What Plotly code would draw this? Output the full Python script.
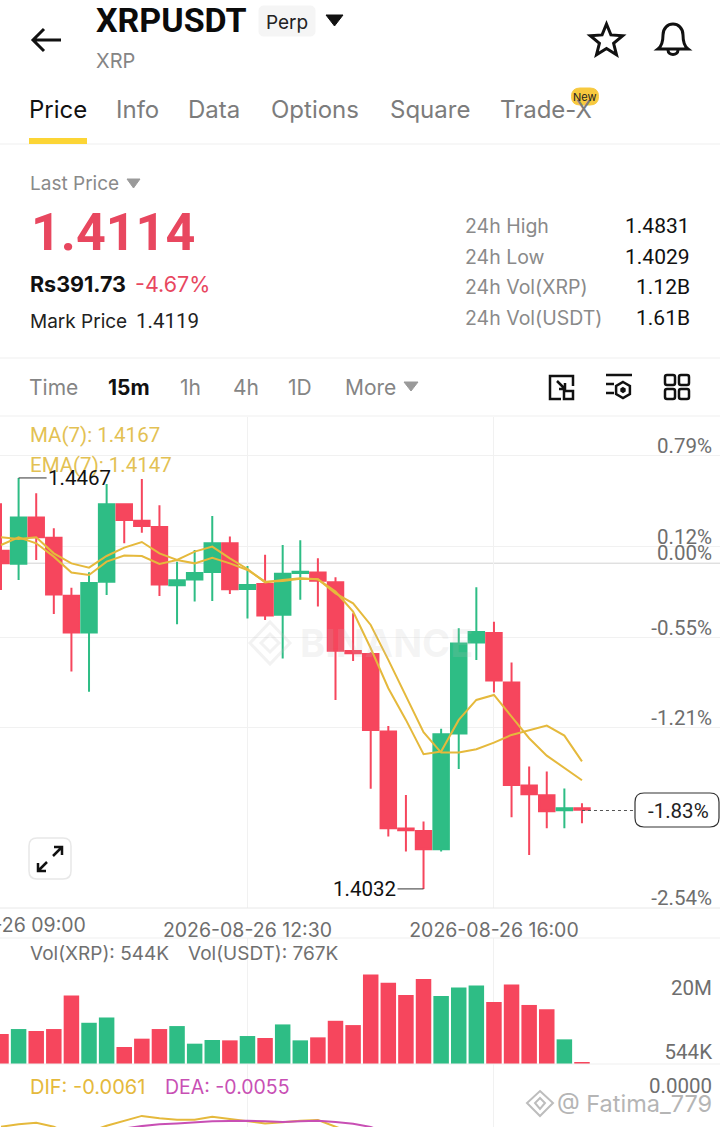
"""XRPUSDT perp screen: candles, volume and MACD panels with the app chrome around them."""
import math

import pandas as pd
import plotly.graph_objects as go

W, H = 720, 1127
GREEN = "#2EBD85"
RED = "#F6465D"
PRICE_RED = "#E8475F"
YELLOW = "#E5B93C"
GRID = "#F1F1F1"
GRAY = "#7C7C7C"
FONT = "Inter"
NUM_FONT = "Roboto"  # digits are all one width here, like the app's numerals

# 15m candles, first one is just off the left edge
times = pd.date_range("2026-08-26 09:00", periods=34, freq="15min")
opens = [1.43900, 1.43763, 1.44250, 1.44038, 1.43424, 1.43033, 1.43572, 1.44391, 1.44218, 1.44151, 1.43534,
         1.43594, 1.43675, 1.43978, 1.43495, 1.43548, 1.43223, 1.43664, 1.43668, 1.43565, 1.42839, 1.42807,
         1.41985, 1.40959, 1.40934, 1.40740, 1.41964, 1.42927, 1.43029, 1.42504, 1.41414, 1.41312, 1.41153, 1.41174]
highs = [1.44401, 1.44670, 1.44507, 1.44137, 1.43509, 1.43671, 1.44606, 1.44401, 1.44659, 1.44380, 1.43784,
         1.43907, 1.44267, 1.44049, 1.43738, 1.43858, 1.43960, 1.44010, 1.43819, 1.43618, 1.43237, 1.42825,
         1.42045, 1.41315, 1.41033, 1.42014, 1.43079, 1.43513, 1.43149, 1.42716, 1.41615, 1.41562, 1.41382, 1.41227]
lows = [1.43484, 1.43590, 1.43802, 1.43230, 1.42620, 1.42408, 1.43431, 1.43978, 1.44091, 1.43421, 1.43121,
        1.43361, 1.43368, 1.43442, 1.43181, 1.43167, 1.42758, 1.43382, 1.43308, 1.42320, 1.42733, 1.41379,
        1.40874, 1.40716, 1.40320, 1.40716, 1.41590, 1.42744, 1.42398, 1.41079, 1.40680, 1.40963, 1.40963, 1.41015]
closes = [1.43766, 1.44250, 1.44042, 1.43435, 1.43033, 1.43558, 1.44391, 1.44225, 1.44161, 1.43541, 1.43587,
          1.43664, 1.43978, 1.43491, 1.43537, 1.43213, 1.43657, 1.43678, 1.43583, 1.42842, 1.42814, 1.42003,
          1.40963, 1.40941, 1.40740, 1.41957, 1.42917, 1.43040, 1.42525, 1.41421, 1.41322, 1.41142, 1.41174, 1.41157]
ma7 = [1.43960, 1.44042, 1.43978, 1.43837, 1.43668, 1.43643, 1.43784, 1.43848, 1.43844, 1.43759, 1.43802,
       1.43766, 1.43826, 1.43766, 1.43696, 1.43572, 1.43579, 1.43604, 1.43597, 1.43449, 1.43343, 1.43114,
       1.42744, 1.42356, 1.41978, 1.41763, 1.41763, 1.41798, 1.41869, 1.41950, 1.41996, 1.42049, 1.41943, 1.41670]
ema7 = [1.44042, 1.44024, 1.44042, 1.43872, 1.43766, 1.43721, 1.43844, 1.43932, 1.43992, 1.43872, 1.43802,
        1.43890, 1.43943, 1.43819, 1.43706, 1.43565, 1.43590, 1.43608, 1.43597, 1.43467, 1.43255, 1.42867,
        1.42444, 1.42109, 1.41746, 1.41774, 1.42109, 1.42320, 1.42373, 1.42144, 1.41915, 1.41731, 1.41597, 1.41470]
volumes_m = [9.09, 10.6, 10.0, 10.6, 20.8, 12.5, 14.1, 5.15, 7.68, 10.6, 11.5, 6.16, 7.27, 7.17, 8.48, 7.88, 12.0,
             7.17, 8.08, 13.1, 11.8, 27.1, 24.6, 20.9, 25.8, 20.6, 23.2, 23.8, 18.8, 24.1, 17.9, 16.6, 7.47, 0.544]
dif = [-0.00102, -0.00094, -0.00089, -0.00102, -0.00130, -0.00119, -0.00099, -0.00083, -0.00066, -0.00074, -0.00079,
       -0.00079, -0.00069, -0.00076, -0.00083, -0.00091, -0.00087, -0.00082, -0.00080, -0.00100, -0.00124, -0.0019,
       -0.0027, -0.0036, -0.0045, -0.0048, -0.0046, -0.0043, -0.0042, -0.0046, -0.0052, -0.0057, -0.0060, -0.0061]
dea = [-0.0016, -0.0015, -0.0015, -0.0015, -0.0015, -0.0014, -0.00124, -0.00108, -0.00100, -0.00094, -0.00091,
       -0.00087, -0.00084, -0.00083, -0.00082, -0.00084, -0.00086, -0.00084, -0.00082, -0.00086, -0.00092, -0.00103,
       -0.00124, -0.0016, -0.0021, -0.0027, -0.0031, -0.0034, -0.0036, -0.0039, -0.0042, -0.0046, -0.0050, -0.0055]

pct_vals = [1.44906, 1.43943, 1.4377, 1.42979, 1.42030, 1.40118]
pct_text = ["0.79%", "0.12%", "0.00%", "-0.55%", "-1.21%", "-2.54%"]
x_ticks = ["2026-08-26 12:30", "2026-08-26 16:00"]
x_range = ["2026-08-26 08:59:09", "2026-08-26 19:12:36"]
stats = [("24h High", "1.4831"), ("24h Low", "1.4029"), ("24h Vol(XRP)", "1.12B"), ("24h Vol(USDT)", "1.61B")]
tabs = [("Price", 29), ("Info", 116), ("Data", 188), ("Options", 271), ("Square", 390), ("Trade-X", 500)]
periods = [("Time", 29), ("15m", 108), ("1h", 180), ("4h", 233), ("1D", 288), ("More", 345)]


def dom(top, bottom):
    return [1 - bottom / H, 1 - top / H]


annotations = []
shapes = []


def txt(x, y, s, size, color, anchor="left", bold=False, family=FONT):
    # annotations carry about 2px of padding on their anchored side
    x = x - 2 if anchor == "left" else x + 2 if anchor == "right" else x
    annotations.append(dict(x=x, y=y, xref="x4", yref="y4", text=f"<b>{s}</b>" if bold else s, showarrow=False,
                            xanchor=anchor, yanchor="middle", font=dict(size=size, color=color, family=family)))


def path(d, color="#111111", width=2.5, fill=None, layer="above"):
    shapes.append(dict(type="path", path=d, xref="x4", yref="y4", layer=layer,
                       line=dict(color=color, width=width), fillcolor=fill or "rgba(0,0,0,0)"))


def rrect(x0, y0, x1, y1, r):
    return (f"M{x0 + r} {y0} L{x1 - r} {y0} Q{x1} {y0} {x1} {y0 + r} L{x1} {y1 - r} Q{x1} {y1} {x1 - r} {y1} "
            f"L{x0 + r} {y1} Q{x0} {y1} {x0} {y1 - r} L{x0} {y0 + r} Q{x0} {y0} {x0 + r} {y0} Z")


def hline(y, color="#EFEFEF", width=1):
    path(f"M0 {y} L{W} {y}", color, width, layer="below")


def star(cx, cy, r_out, r_in):
    pts = []
    for i in range(10):
        r = r_out if i % 2 == 0 else r_in
        a = -math.pi / 2 + i * math.pi / 5
        pts.append(f"{cx + r * math.cos(a):.1f} {cy + r * math.sin(a):.1f}")
    return "M" + " L".join(pts) + " Z"


def hexagon(cx, cy, r):
    pts = []
    for i in range(6):
        a = -math.pi / 2 + i * math.pi / 3
        pts.append(f"{cx + r * math.cos(a):.1f} {cy + r * math.sin(a):.1f}")
    return "M" + " L".join(pts) + " Z"


fig = go.Figure()
fig.add_trace(go.Candlestick(
    x=times, open=opens, high=highs, low=lows, close=closes, whiskerwidth=0,
    increasing=dict(line=dict(color=GREEN, width=2), fillcolor=GREEN),
    decreasing=dict(line=dict(color=RED, width=2), fillcolor=RED),
    xaxis="x", yaxis="y", hoverinfo="skip"))
for series in (ma7, ema7):
    fig.add_trace(go.Scatter(x=times, y=series, mode="lines", line=dict(color=YELLOW, width=2),
                             xaxis="x", yaxis="y", hoverinfo="skip"))
bar_colors = [GREEN if c >= o else RED for o, c in zip(opens, closes)]
fig.add_trace(go.Bar(x=times, y=volumes_m, marker=dict(color=bar_colors, line=dict(width=0)),
                     xaxis="x2", yaxis="y2", hoverinfo="skip"))
fig.add_trace(go.Scatter(x=times, y=dif, mode="lines", line=dict(color=YELLOW, width=2),
                         xaxis="x3", yaxis="y3", hoverinfo="skip"))
fig.add_trace(go.Scatter(x=times, y=dea, mode="lines", line=dict(color="#C84FB4", width=2),
                         xaxis="x3", yaxis="y3", hoverinfo="skip"))
fig.add_trace(go.Scatter(x=[], y=[], xaxis="x4", yaxis="y4"))

# header
path("M61 40 L33 40 M44 29 L33 40 L44 51", width=3)
txt(96, 20, "XRPUSDT", 34, "#0B0B0B", bold=True, family=NUM_FONT)
path(rrect(259, 6, 315, 36, 5), "#F5F5F5", 1, "#F5F5F5")
txt(287, 22, "Perp", 19, "#222222", "center")
path("M326 15 L343 15 L334.5 26 Z", "#111111", 1, "#111111")
txt(96, 61, "XRP", 20, "#858585")
path(star(606.5, 41, 17, 7.5), width=3)
path("M658 49 C662 46 663 41 663 35 C663 28 668 24 673 24 C678 24 683 28 683 35 C683 41 684 46 688 49 Z", width=3)
path("M668 50 C668 56 678 56 678 50", width=3)

for name, x in tabs:
    txt(x, 109, name, 24, "#111111" if name == "Price" else GRAY)
path("M29 141 L87 141", "#FCD535", 6)
hline(144)
path(rrect(571.5, 88, 598.5, 105, 8.5), "#F7C93E", 1, "#F7C93E")
txt(585, 97, "New", 11, "#222222", "center")

# price summary
txt(30, 183, "Last Price", 19, "#8A8A8A")
path("M127 179 L140 179 L133.5 188 Z", "#9A9A9A", 1, "#9A9A9A")
txt(31, 232, "1.4114", 52, PRICE_RED, bold=True, family=NUM_FONT)
txt(30, 284, "Rs391.73", 21.5, "#111111", bold=True)
txt(135, 284, "-4.67%", 21.5, PRICE_RED)
txt(30, 321, "Mark Price", 19, "#222222")
txt(136, 321, "1.4119", 20.5, "#222222", family=NUM_FONT)
for i, (label, val) in enumerate(stats):
    y = 226 + i * 30.7
    txt(465, y, label, 19.5, "#8A8A8A")
    txt(690, y, val, 21, "#111111", "right", family=NUM_FONT)
hline(358)

# interval row
for name, x in periods:
    txt(x, 387, name, 21, "#111111" if name == "15m" else "#858585", bold=name == "15m")
path("M404 382 L418 382 L411 391 Z", "#9A9A9A", 1, "#9A9A9A")
path("M573 386 L573 376 L550 376 L550 399 L561 399", width=2.5)
path("M564 391 L573 391 L573 399 L564 399 Z", width=2.5)
path("M557 381 L565 389 M565 383 L565 389 L559 389", width=2.5)
path("M606 375 L632 375 M606 384 L614 384 M606 393 L614 393", width=2.5)
path(hexagon(623, 390, 8), width=2.5)
path(hexagon(623, 390, 2), width=2, fill="#111111")
for x0 in (665, 679):
    for y0 in (375, 389):
        path(rrect(x0, y0, x0 + 10, y0 + 10, 2), width=2.5)
hline(416)

# chart legends and panel rules
txt(30, 435, "MA(7): 1.4167", 20.5, "#E3C153", family=NUM_FONT)
txt(30, 465, "EMA(7): 1.4147", 20.5, "#E3C153", family=NUM_FONT)
hline(908, "#E8E8E8")
hline(938, "#EFEFEF")
hline(1064, "#EFEFEF")
txt(86, 925, "2026-08-26 09:00", 19.5, "#6E6E6E", "right")
txt(30, 953, "Vol(XRP): 544K", 19, "#707070")
txt(188, 953, "Vol(USDT): 767K", 19, "#707070")
txt(30, 1087, "DIF: -0.0061", 20, "#E5B93C")
txt(165, 1087, "DEA: -0.0055", 19.5, "#C84FB4")

# watermarks
path("M270 622 L290 643 L270 664 L250 643 Z M270 634 L279 643 L270 652 L261 643 Z", "rgba(190,190,190,0.2)", 3)
txt(300, 643, "BINANCE", 38, "rgba(190,190,190,0.16)", bold=True)
path("M540 1091 L553 1103 L540 1116 L527 1103 Z M540 1098 L545 1103 L540 1109 L535 1103 Z", "#BDBDBD", 2)
txt(557, 1103, "@ Fatima_779", 23.5, "#B5B5B5")

# expand button
path(rrect(29, 838, 71, 879, 8), "#E8E8E8", 1.5)
path("M38 871 L47 862 M38 863 L38 871 L46 871 M62 847 L53 856 M54 847 L62 847 L62 855", width=2.5)

# last price marker
shapes.append(dict(type="line", xref="x", yref="y", x0=times[33], x1="2026-08-26 18:00", y0=1.4115, y1=1.4115,
                   line=dict(color="#555555", width=1, dash="3px,3px")))
path(rrect(635, 793, 719, 827, 9), "#333333", 1.2, "#FFFFFF")
txt(678, 811, "-1.83%", 20.5, "#222222", "center", family=NUM_FONT)

# high / low callouts sit on the price scale
callout_font = dict(size=20.5, color="#111111", family=NUM_FONT)
annotations.append(dict(x=times[1], y=1.4467, xref="x", yref="y", text="1.4467", ax=61, ay=0, showarrow=True,
                        arrowhead=0, arrowwidth=1, arrowcolor="#333333", font=callout_font))
annotations.append(dict(x=times[24], y=1.4032, xref="x", yref="y", text="1.4032", ax=-59, ay=0, showarrow=True,
                        arrowhead=0, arrowwidth=1, arrowcolor="#333333", font=callout_font))

shapes.append(dict(type="line", xref="paper", yref="y", x0=0, x1=1, y0=1.4377, y1=1.4377, layer="below",
                   line=dict(color="#D6D6D6", width=1.5)))

tickfont = dict(size=20.5, color="#6E6E6E", family=NUM_FONT)
common_x = dict(range=x_range, type="date", tickvals=x_ticks, showgrid=True, gridcolor=GRID, zeroline=False,
                showline=False, fixedrange=True)
common_y = dict(side="right", ticklabelposition="inside", ticklabeloverflow="allow", tickfont=tickfont, ticks="",
                zeroline=False, showline=False, fixedrange=True, ticklabelshift=-10, ticklabelstandoff=5)

fig.update_layout(
    width=W, height=H, margin=dict(l=0, r=0, t=0, b=0, autoexpand=False), paper_bgcolor="white",
    plot_bgcolor="rgba(0,0,0,0)", showlegend=False, hovermode=False, boxgap=0.12, boxgroupgap=0, bargap=0.12,
    font=dict(family=FONT), annotations=annotations, shapes=shapes,
    xaxis=dict(common_x, domain=[0, 1], anchor="y", rangeslider=dict(visible=False), ticktext=x_ticks,
               ticks="outside", ticklen=5, tickcolor="rgba(0,0,0,0)",
               tickfont=dict(size=19.5, color="#6E6E6E", family=FONT)),
    yaxis=dict(common_y, domain=dom(417, 908), anchor="x", range=[1.40118, 1.45315], tickvals=pct_vals,
               ticktext=pct_text, showgrid=True, gridcolor=GRID),
    xaxis2=dict(common_x, domain=[0, 1], anchor="y2", showticklabels=False),
    yaxis2=dict(common_y, domain=dom(938, 1064), anchor="x2", range=[0, 38.2], tickvals=[0.544, 20],
                ticktext=["544K", "20M"], showgrid=False),
    xaxis3=dict(common_x, domain=[0, 1], anchor="y3", showticklabels=False),
    yaxis3=dict(common_y, domain=dom(1064, 1127), anchor="x3", range=[-0.00103, 0.00107], tickvals=[0],
                ticktext=["0.0000"], showgrid=False),
    xaxis4=dict(domain=[0, 1], anchor="y4", range=[0, W], visible=False, fixedrange=True),
    yaxis4=dict(domain=[0, 1], anchor="x4", range=[H, 0], visible=False, fixedrange=True),
)

fig.write_html("out.html", config={"displayModeBar": False}, post_script="document.body.style.margin='0';")
